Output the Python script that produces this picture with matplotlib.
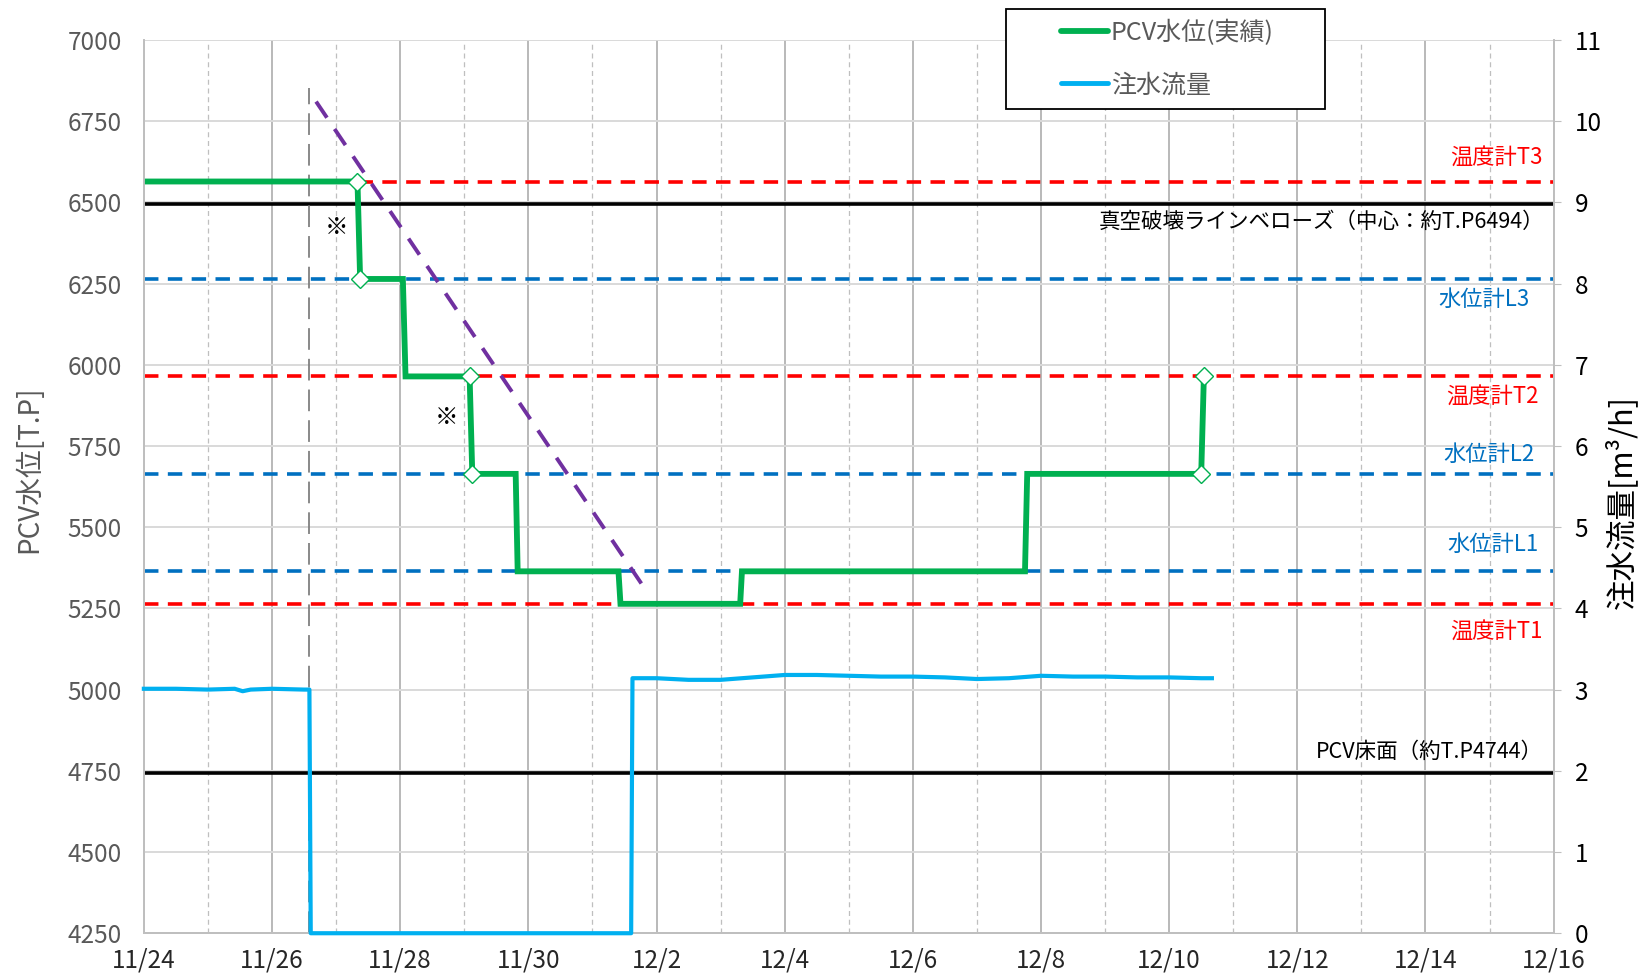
import pandas as pd
import matplotlib.pyplot as plt
from matplotlib.patches import Rectangle
from matplotlib.lines import Line2D

plt.rcParams['font.family'] = ['Noto Sans CJK JP', 'DejaVu Sans']

# PCV水位(実績) [T.P]
level_time = pd.to_datetime([
    '2019-11-24 00:00', '2019-11-27 08:00', '2019-11-27 09:00', '2019-11-28 01:00',
    '2019-11-28 02:00', '2019-11-29 02:00', '2019-11-29 03:00', '2019-11-29 19:15',
    '2019-11-29 20:00', '2019-12-01 09:45', '2019-12-01 10:30', '2019-12-03 07:20',
    '2019-12-03 08:00', '2019-12-07 18:00', '2019-12-07 18:50', '2019-12-10 12:00',
    '2019-12-10 13:00'])
level_value = [6564, 6564, 6264, 6264, 5964, 5964, 5664, 5664,
               5364, 5364, 5264, 5264, 5364, 5364, 5664, 5664, 5964]

# points marked with diamonds
mark_time = pd.to_datetime(['2019-11-27 08:00', '2019-11-27 09:00', '2019-11-29 02:00',
                            '2019-11-29 03:00', '2019-12-10 12:00', '2019-12-10 13:00'])
mark_value = [6564, 6264, 5964, 5664, 5664, 5964]

# 注水流量 [m3/h]
flow_time = pd.to_datetime([
    '2019-11-24 00:00', '2019-11-24 12:00', '2019-11-25 00:00', '2019-11-25 10:00',
    '2019-11-25 13:00', '2019-11-25 16:00', '2019-11-26 00:00', '2019-11-26 12:00',
    '2019-11-26 14:00', '2019-11-26 14:30', '2019-12-01 14:30', '2019-12-01 15:00',
    '2019-12-02 00:00', '2019-12-02 12:00', '2019-12-03 00:00', '2019-12-03 12:00',
    '2019-12-04 00:00', '2019-12-04 12:00', '2019-12-05 00:00', '2019-12-05 12:00',
    '2019-12-06 00:00', '2019-12-06 12:00', '2019-12-07 00:00', '2019-12-07 12:00',
    '2019-12-08 00:00', '2019-12-08 12:00', '2019-12-09 00:00', '2019-12-09 12:00',
    '2019-12-10 00:00', '2019-12-10 12:00', '2019-12-10 16:00'])
flow_value = [3.01, 3.01, 3.00, 3.01, 2.98, 3.00, 3.01, 3.00,
              3.00, 0.0, 0.0, 3.14, 3.14, 3.12, 3.12, 3.15,
              3.18, 3.18, 3.17, 3.16, 3.16, 3.15, 3.13, 3.14,
              3.17, 3.16, 3.16, 3.15, 3.15, 3.14, 3.14]

# trend line (dashed purple)
trend_time = pd.to_datetime(['2019-11-26 16:30', '2019-12-01 20:10'])
trend_value = [6810, 5304]

# start of test (grey dashed vertical)
start_time = pd.Timestamp('2019-11-26 14:00')
start_top = 6851

# reference levels
ref_names = ['温度計T3', '真空破壊ラインベローズ（中心：約T.P6494）', '水位計L3', '温度計T2',
             '水位計L2', '水位計L1', '温度計T1', 'PCV床面（約T.P4744）']
ref_levels = [6564, 6494, 6264, 5964, 5664, 5364, 5264, 4744]
ref_kind = ['temp', 'line', 'gauge', 'temp', 'gauge', 'gauge', 'temp', 'line']

# notes
note_text = '※'
note_time = pd.to_datetime(['2019-11-27 00:00', '2019-11-28 17:15'])
note_value = [6421, 5837]

x_start = pd.Timestamp('2019-11-24')
x_end = pd.Timestamp('2019-12-16')
major_days = pd.date_range(x_start, x_end, freq='2D')
minor_days = pd.date_range('2019-11-25', '2019-12-15', freq='2D')
major_labels = [f'{d.month}/{d.day}' for d in major_days]

fig = plt.figure(figsize=(16.46, 9.77), dpi=100)
ax = fig.add_axes([0.0874, 0.0448, 0.8565, 0.9144])
ax2 = ax.twinx()

ax.set_xlim(x_start, x_end)
ax.set_ylim(4250, 7000)
ax2.set_ylim(0, 11)
ax.set_yticks(range(4250, 7001, 250))
ax2.set_yticks(range(0, 12))
ax.set_xticks(major_days)
ax.set_xticklabels(major_labels)
ax.set_xticks(minor_days, minor=True)

ax.set_axisbelow(True)
ax.grid(axis='y', color='#D9D9D9', lw=1.4)
ax.grid(axis='x', which='major', color='#A6A6A6', lw=1.1)
ax.grid(axis='x', which='minor', color='#BFBFBF', lw=0.9, ls=(0, (4, 3)))

for a in (ax, ax2):
    a.spines['top'].set_visible(False)
    for s in ('left', 'right', 'bottom'):
        a.spines[s].set_color('#BFBFBF')
        a.spines[s].set_linewidth(1.3)

ax.tick_params(axis='y', length=0, labelsize=17.5, labelcolor='#595959', pad=16)
ax.tick_params(axis='x', which='both', length=0, labelsize=17.5, labelcolor='#262626', pad=10)
ax2.tick_params(axis='y', length=5, color='#BFBFBF', labelsize=17.5, labelcolor='#000000', pad=10)

fig.text(29 / 1646, 1 - 469 / 977, 'PCV水位[T.P]', rotation=90, ha='center', va='center',
         fontsize=20, color='#595959')
fig.text(1622 / 1646, 1 - 502 / 977, '注水流量[m³/h]', rotation=90, ha='center', va='center',
         fontsize=22, color='#000000')

# reference lines
kind_style = {
    'temp': dict(color='#FF0000', lw=2.6, ls=(0, (4, 2.6))),
    'gauge': dict(color='#0070C0', lw=2.6, ls=(0, (4, 2.6))),
    'line': dict(color='#000000', lw=2.6, ls='-'),
}
kind_text = {'temp': '#FF0000', 'gauge': '#0070C0', 'line': '#000000'}
# text placement (right edge in days from 11/24, y centre in T.P)
text_pos = [(21.83, 6638), (21.86, 6441), (21.62, 6202), (21.77, 5904),
            (21.70, 5724), (21.76, 5446), (21.83, 5180), (21.83, 4809)]
for name, lev, kind, (dx, ty) in zip(ref_names, ref_levels, ref_kind, text_pos):
    ax.axhline(lev, zorder=2, **kind_style[kind])
    ax.text(x_start + pd.Timedelta(days=dx), ty, name, ha='right', va='center',
            fontsize=15.5 if kind == 'line' else 16, color=kind_text[kind], zorder=3)

ax.plot([start_time, start_time], [4250, start_top], color='#808080', lw=1.3,
        ls=(0, (12, 5)), zorder=2)
ax.plot(trend_time, trend_value, color='#7030A0', lw=2.8, ls=(0, (5, 3.5)), zorder=4)

ax.plot(level_time, level_value, color='#00B050', lw=4.2, zorder=5,
        solid_joinstyle='miter')
ax.plot(mark_time, mark_value, ls='none', marker='D', ms=9, mfc='white',
        mec='#00B050', mew=1.0, zorder=6)

for t, v in zip(note_time, note_value):
    ax.text(t, v, note_text, ha='center', va='center', fontsize=17, color='black')

ax2.plot(flow_time, flow_value, color='#00B0F0', lw=3.0, clip_on=False, zorder=3)

# legend box
fig.patches.append(Rectangle((1006 / 1646, 1 - 109 / 977), 319 / 1646, 100 / 977,
                             transform=fig.transFigure, facecolor='white',
                             edgecolor='black', lw=1.3, zorder=4))
handles = [Line2D([], [], color='#00B050', lw=4.2, solid_capstyle='round'),
           Line2D([], [], color='#00B0F0', lw=3.5, solid_capstyle='round')]
leg = fig.legend(handles, ['PCV水位(実績)', '注水流量'], loc='center',
                 bbox_to_anchor=(1167 / 1646, 1 - 59 / 977), frameon=False,
                 fontsize=18, labelcolor='#595959', handlelength=1.9,
                 handletextpad=0.1, labelspacing=1.05)
leg.set_zorder(6)

fig.savefig('out.png', dpi=100)
